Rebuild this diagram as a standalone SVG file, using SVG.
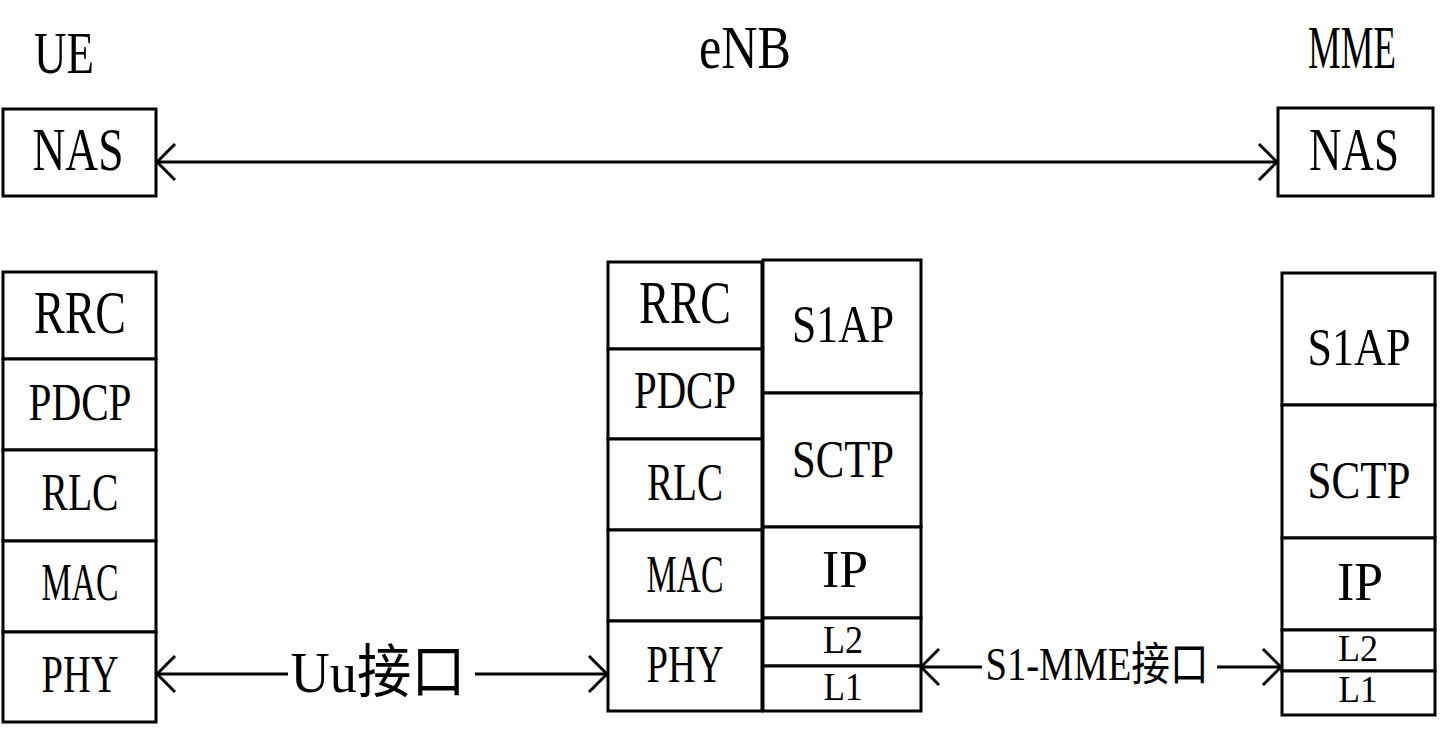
<svg xmlns="http://www.w3.org/2000/svg" width="1440" height="734" viewBox="0 0 1440 734">
<style>
  .box { fill: #fff; stroke: #000; stroke-width: 3; }
  .t { font-family: 'Liberation Serif', 'Noto Sans CJK SC', serif; fill: #000; text-anchor: middle; }
  .big { font-size: 62px; }
  .mid { font-size: 53px; }
  .sm { font-size: 40px; }
  .conn { fill: none; stroke: #000; stroke-width: 3; }
</style>
<defs>
  <marker id="chev" viewBox="-21 -21 23 42" markerWidth="23" markerHeight="42" refX="0" refY="0" markerUnits="userSpaceOnUse" orient="auto-start-reverse">
    <path d="M-18,-18 L0,0 L-18,18" fill="none" stroke="#000" stroke-width="3"/>
  </marker>
</defs>
<rect width="1440" height="734" fill="#fff"/>

<g id="titles">
  <text class="t" x="64" y="73" font-size="60" textLength="60" lengthAdjust="spacingAndGlyphs">UE</text>
  <text class="t big" x="745" y="68" textLength="92" lengthAdjust="spacingAndGlyphs">eNB</text>
  <text class="t big" x="1352" y="68" textLength="88" lengthAdjust="spacingAndGlyphs">MME</text>
</g>

<g id="ue-nas"><rect class="box" x="3" y="109" width="153" height="87"/><text class="t big" x="78" y="170" textLength="91" lengthAdjust="spacingAndGlyphs">NAS</text></g>
<g id="mme-nas"><rect class="box" x="1278" y="108" width="155" height="88"/><text class="t big" x="1354" y="170" textLength="90" lengthAdjust="spacingAndGlyphs">NAS</text></g>

<g id="ue-rrc"><rect class="box" x="3" y="272" width="153" height="87"/><text class="t big" x="80" y="333" textLength="92" lengthAdjust="spacingAndGlyphs">RRC</text></g>
<g id="ue-pdcp"><rect class="box" x="3" y="359" width="153" height="91"/><text class="t mid" x="80" y="420" textLength="103" lengthAdjust="spacingAndGlyphs">PDCP</text></g>
<g id="ue-rlc"><rect class="box" x="3" y="450" width="153" height="91"/><text class="t mid" x="80" y="510" textLength="77" lengthAdjust="spacingAndGlyphs">RLC</text></g>
<g id="ue-mac"><rect class="box" x="3" y="541" width="153" height="91"/><text class="t mid" x="80" y="600" textLength="77" lengthAdjust="spacingAndGlyphs">MAC</text></g>
<g id="ue-phy"><rect class="box" x="3" y="632" width="153" height="90"/><text class="t mid" x="80" y="692" textLength="77" lengthAdjust="spacingAndGlyphs">PHY</text></g>

<g id="enb-rrc"><rect class="box" x="608" y="262" width="154" height="87"/><text class="t big" x="685" y="323" textLength="92" lengthAdjust="spacingAndGlyphs">RRC</text></g>
<g id="enb-pdcp"><rect class="box" x="608" y="349" width="154" height="90"/><text class="t mid" x="685" y="408" textLength="102" lengthAdjust="spacingAndGlyphs">PDCP</text></g>
<g id="enb-rlc"><rect class="box" x="608" y="439" width="154" height="91"/><text class="t mid" x="685" y="500" textLength="76" lengthAdjust="spacingAndGlyphs">RLC</text></g>
<g id="enb-mac"><rect class="box" x="608" y="530" width="154" height="91"/><text class="t mid" x="685" y="592" textLength="77" lengthAdjust="spacingAndGlyphs">MAC</text></g>
<g id="enb-phy"><rect class="box" x="608" y="621" width="154" height="90"/><text class="t mid" x="685" y="682" textLength="77" lengthAdjust="spacingAndGlyphs">PHY</text></g>

<g id="enb-s1ap"><rect class="box" x="763" y="260" width="158" height="133"/><text class="t mid" x="843" y="342" textLength="102" lengthAdjust="spacingAndGlyphs">S1AP</text></g>
<g id="enb-sctp"><rect class="box" x="763" y="393" width="158" height="134"/><text class="t mid" x="843" y="477" textLength="102" lengthAdjust="spacingAndGlyphs">SCTP</text></g>
<g id="enb-ip"><rect class="box" x="763" y="527" width="158" height="91"/><text class="t mid" x="845" y="587" textLength="46" lengthAdjust="spacingAndGlyphs">IP</text></g>
<g id="enb-l2"><rect class="box" x="763" y="618" width="158" height="48"/><text class="t sm" x="843" y="653" textLength="40" lengthAdjust="spacingAndGlyphs">L2</text></g>
<g id="enb-l1"><rect class="box" x="763" y="666" width="158" height="45"/><text class="t sm" x="843" y="700" textLength="39" lengthAdjust="spacingAndGlyphs">L1</text></g>

<g id="mme-s1ap"><rect class="box" x="1282" y="273" width="153" height="132"/><text class="t mid" x="1359" y="365" textLength="103" lengthAdjust="spacingAndGlyphs">S1AP</text></g>
<g id="mme-sctp"><rect class="box" x="1282" y="405" width="153" height="133"/><text class="t mid" x="1359" y="498" textLength="103" lengthAdjust="spacingAndGlyphs">SCTP</text></g>
<g id="mme-ip"><rect class="box" x="1282" y="538" width="153" height="92"/><text class="t" x="1360" y="600" font-size="55" textLength="46" lengthAdjust="spacingAndGlyphs">IP</text></g>
<g id="mme-l2"><rect class="box" x="1282" y="630" width="153" height="41"/><text class="t" x="1358" y="661" font-size="38" textLength="40" lengthAdjust="spacingAndGlyphs">L2</text></g>
<g id="mme-l1"><rect class="box" x="1282" y="671" width="153" height="44"/><text class="t" x="1358" y="702" font-size="38" textLength="39" lengthAdjust="spacingAndGlyphs">L1</text></g>

<g id="connectors">
  <path class="conn" d="M157,162 H1277" marker-start="url(#chev)" marker-end="url(#chev)"/>
  <path class="conn" d="M157,674 H288 M475,674 H607" marker-start="url(#chev)" marker-end="url(#chev)"/>
  <text class="t" x="378" y="692" font-size="58" textLength="175" lengthAdjust="spacingAndGlyphs">Uu接口</text>
  <path class="conn" d="M921,667 H982 M1217,667 H1281" marker-start="url(#chev)" marker-end="url(#chev)"/>
  <text class="t" x="1097" y="680" font-size="46" textLength="223" lengthAdjust="spacingAndGlyphs">S1-MME接口</text>
</g>
</svg>
